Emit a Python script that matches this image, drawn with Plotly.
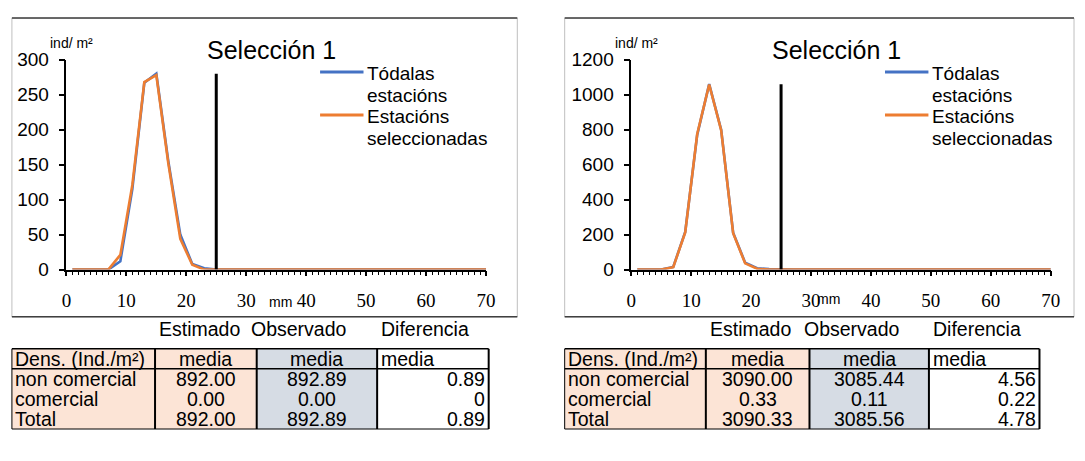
import plotly.graph_objects as go

W, H = 1085, 461

# ---------------- data ----------------
mm = list(range(1, 72, 2))  # size classes (mm)
c1_all = [0, 0, 0, 0, 12, 115, 267, 280, 155, 50, 8, 2] + [0] * 24
c1_sel = [0, 0, 0, 0, 21, 121, 268, 278, 152, 44, 7, 0] + [0] * 24
c2_all = [0, 0, 0, 15, 215, 770, 1060, 800, 211, 40, 8, 3] + [0] * 24
c2_sel = [0, 0, 0, 14, 213, 775, 1058, 797, 208, 36, 5, 0] + [0] * 24
cutoff = 25
series_names = ["Tódalas<br>estacións", "Estacións<br>seleccionadas"]
series_colors = ["#4472C4", "#ED7D31"]
chart_title = "Selección 1"

tbl_cols = ["Estimado", "Observado", "Diferencia"]
tbl_head = ["Dens. (Ind./m²)", "media", "media", "media"]
tbl_rows = ["non comercial", "comercial", "Total"]
t1_est = [892.00, 0.00, 892.00]
t1_obs = [892.89, 0.00, 892.89]
t1_dif = [0.89, 0, 0.89]
t2_est = [3090.00, 0.33, 3090.33]
t2_obs = [3085.44, 0.11, 3085.56]
t2_dif = [4.56, 0.22, 4.78]

# ---------------- helpers (pixels -> paper) ----------------
def px(x):
    return x / W

def py(y):
    return 1 - y / H

SANS = "Liberation Sans, Arial, sans-serif"
SERIF = "Liberation Serif, Times New Roman, serif"
PEACH = "#FCE4D6"
BLUEG = "#D6DCE4"
TXT = 19.5

fig = go.Figure()
shapes = []
annotations = []

charts = [
    dict(all=c1_all, sel=c1_sel, x0=62.2, x1=487.3, ymax=300, ydt=50, ax="", frame=(7, 519)),
    dict(all=c2_all, sel=c2_sel, x0=634.5, x1=1059.3, ymax=1200, ydt=200, ax="2", frame=(567, 1083)),
]
Y0, Y1 = 272, 52

for i, ch in enumerate(charts):
    xa = "x" + ch["ax"]
    ya = "y" + ch["ax"]
    for vals, name, col in zip([ch["all"], ch["sel"]], series_names, series_colors):
        fig.add_trace(go.Scatter(x=mm, y=vals, mode="lines", name=name,
                                 line=dict(color=col, width=2.6), xaxis=xa, yaxis=ya,
                                 showlegend=False, cliponaxis=True))
    top = max(ch["all"])
    fig.add_trace(go.Scatter(x=[cutoff, cutoff], y=[0, top], mode="lines",
                             line=dict(color="black", width=3), xaxis=xa, yaxis=ya,
                             showlegend=False))
    xdom = [px(ch["x0"]), px(ch["x1"])]
    ydom = [py(Y0), py(Y1)]
    k = ch["ax"]
    ov = str(3 + i * 2)
    ovy = str(4 + i * 2)
    common_x = dict(domain=xdom, range=[0, 70], showgrid=False, zeroline=False)
    common_y = dict(domain=ydom, range=[0, ch["ymax"]], showgrid=False, zeroline=False)
    fig.layout["xaxis" + k] = dict(
        **common_x, anchor=ya, tickmode="linear", tick0=0, dtick=10,
        showline=True, linecolor="black", linewidth=1.5,
        ticks="outside", ticklen=5, tickwidth=1.5, tickcolor="black",
        minor=dict(dtick=1, ticks="outside", ticklen=4, tickwidth=1, tickcolor="black"),
        tickfont=dict(family=SERIF, size=19, color="black"), ticklabelstandoff=8)
    fig.layout["yaxis" + k] = dict(
        **common_y, anchor=xa, tickmode="linear", tick0=0, dtick=ch["ydt"],
        showline=True, linecolor="black", linewidth=1.5,
        ticks="outside", ticklen=6, tickwidth=1.5, tickcolor="black",
        tickfont=dict(family=SANS, size=19, color="black"), ticklabelstandoff=6)
    fig.layout["xaxis" + ov] = dict(
        **common_x, overlaying=xa, anchor=ya, tickmode="linear", tick0=0, dtick=10,
        ticks="inside", ticklen=5, tickwidth=1.5, tickcolor="black",
        showticklabels=False, showline=False)
    fig.layout["yaxis" + ovy] = dict(
        **common_y, overlaying=ya, anchor=xa, tickmode="linear", tick0=0, dtick=ch["ydt"],
        ticks="inside", ticklen=6, tickwidth=1.5, tickcolor="black",
        showticklabels=False, showline=False)

    off = ch["x0"]
    fx0, fx1 = ch["frame"]
    shapes.append(dict(type="rect", xref="paper", yref="paper", x0=px(fx0), x1=px(fx1),
                       y0=py(321.5), y1=py(8.5), line=dict(color="#BFBFBF", width=1)))
    for yy in (8.5, 321.5):
        shapes.append(dict(type="line", xref="paper", yref="paper", x0=px(fx0), x1=px(fx1),
                           y0=py(yy), y1=py(yy), line=dict(color="#404040", width=1.5)))
    annotations.append(dict(text=chart_title, x=px(off + 208), y=py(42), xref="paper", yref="paper",
                            showarrow=False, xanchor="center", yanchor="middle",
                            font=dict(family=SANS, size=25, color="black")))
    annotations.append(dict(text="ind/ m²", x=px(off + 5), y=py(35), xref="paper", yref="paper",
                            showarrow=False, xanchor="center", yanchor="middle",
                            font=dict(family=SANS, size=14, color="black")))
    annotations.append(dict(text="mm", x=px(off + (217 if i == 0 else 200)), y=py(306 if i == 0 else 303),
                            xref="paper", yref="paper", showarrow=False, xanchor="center",
                            yanchor="middle", font=dict(family=SANS, size=14, color="black")))
    # legend: sample line + text lines (22.5 px line pitch as in the original)
    leg_x = off + 257
    for j, (name, col) in enumerate(zip(series_names, series_colors)):
        yl = 65 + j * 45
        shapes.append(dict(type="line", xref="paper", yref="paper", x0=px(leg_x), x1=px(leg_x + 44),
                           y0=py(yl), y1=py(yl), line=dict(color=col, width=3)))
        for li, part in enumerate(name.split("<br>")):
            annotations.append(dict(text=part, x=px(leg_x + 46), y=py(yl + 1.5 + li * 22.7),
                                    xref="paper", yref="paper", showarrow=False,
                                    xanchor="left", yanchor="middle", align="left",
                                    font=dict(family=SANS, size=19, color="black")))

# ---------------- tables ----------------
tables = [
    dict(est=t1_est, obs=t1_obs, dif=t1_dif, cols=[7, 152, 255, 377, 490]),
    dict(est=t2_est, obs=t2_obs, dif=t2_dif, cols=[567, 710, 815, 936, 1048]),
]
TOP, R1B, BOT = 355, 376, 439
row_c = [366, 387, 407.5, 428]

def txt(s, x, y, anchor):
    annotations.append(dict(text=s, x=px(x), y=py(y), xref="paper", yref="paper", showarrow=False,
                            xanchor=anchor, yanchor="middle",
                            font=dict(family=SANS, size=TXT, color="black")))

for t in tables:
    c = t["cols"]
    shapes.append(dict(type="rect", xref="paper", yref="paper", x0=px(c[0]), x1=px(c[2]),
                       y0=py(BOT), y1=py(TOP), fillcolor=PEACH, line=dict(width=0), layer="below"))
    shapes.append(dict(type="rect", xref="paper", yref="paper", x0=px(c[2]), x1=px(c[3]),
                       y0=py(BOT), y1=py(TOP), fillcolor=BLUEG, line=dict(width=0), layer="below"))
    for yy in (TOP, R1B, BOT):
        shapes.append(dict(type="line", xref="paper", yref="paper", x0=px(c[0]), x1=px(c[4]),
                           y0=py(yy), y1=py(yy), line=dict(color="black", width=1.5 if yy != BOT else 1)))
    for k2, xx in enumerate(c):
        shapes.append(dict(type="line", xref="paper", yref="paper", x0=px(xx), x1=px(xx),
                           y0=py(BOT), y1=py(TOP), line=dict(color="black", width=1 if k2 == 0 else 2)))
    txt(tbl_cols[0], c[1] + 2, 334, "left")
    txt(tbl_cols[1], c[2] - 8, 334, "left")
    txt(tbl_cols[2], c[3] + 2, 334, "left")
    txt(tbl_head[0], c[0] + 1, row_c[0], "left")
    txt(tbl_head[1], (c[1] + c[2]) / 2, row_c[0], "center")
    txt(tbl_head[2], (c[2] + c[3]) / 2, row_c[0], "center")
    txt(tbl_head[3], c[3] + 2, row_c[0], "left")
    for r in range(3):
        yc = row_c[r + 1]
        txt(tbl_rows[r], c[0] + 1, yc, "left")
        txt(f"{t['est'][r]:.2f}", (c[1] + c[2]) / 2, yc, "center")
        txt(f"{t['obs'][r]:.2f}", (c[2] + c[3]) / 2, yc, "center")
        txt(f"{t['dif'][r]:g}", c[4] - 2, yc, "right")

fig.update_layout(width=W, height=H, margin=dict(l=0, r=0, t=0, b=0),
                  paper_bgcolor="white", plot_bgcolor="rgba(0,0,0,0)",
                  showlegend=False, shapes=shapes, annotations=annotations)

fig.write_html("out.html")
